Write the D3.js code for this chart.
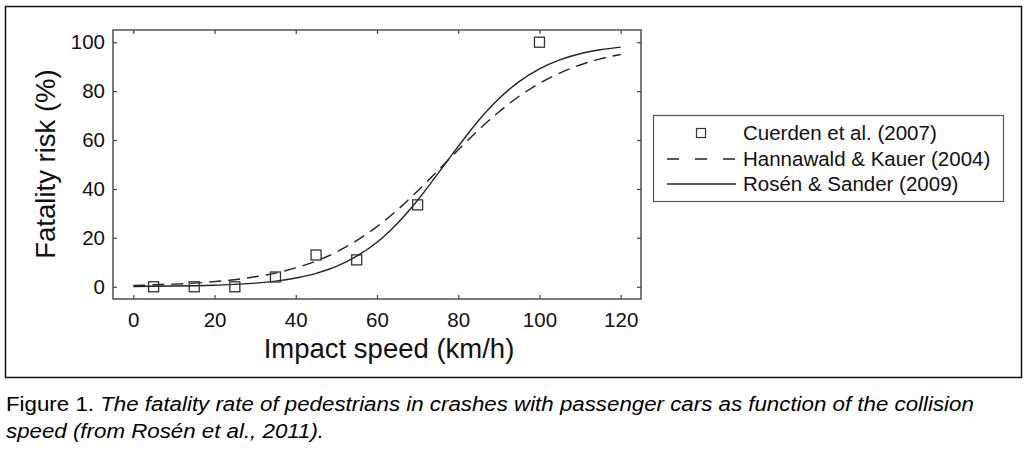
<!DOCTYPE html>
<html>
<head>
<meta charset="utf-8">
<script src="https://cdn.jsdelivr.net/npm/d3@7"></script>
<style>
  body { margin: 0; background: #fff; }
  text { font-family: "Liberation Sans", Arial, Helvetica, sans-serif; }
</style>
</head>
<body>
<svg id="chart" width="1034" height="452"></svg>
<script>
// values
const speeds = [0, 5, 10, 15, 20, 25, 30, 35, 40, 45, 50, 55, 60, 65, 70, 75, 80, 85, 90, 95, 100, 105, 110, 115, 120]
const rosenRisk = [0.1, 0.2, 0.3, 0.4, 0.6, 1.0, 1.5, 2.3, 3.6, 5.5, 8.3, 12.5, 18.2, 25.9, 35.4, 46.3, 57.4, 68, 76.9, 83.9, 89.1, 92.8, 95.3, 96.9, 98.0]
const hannawaldRisk = [0.5, 0.8, 1.1, 1.5, 2.1, 2.9, 4.1, 5.6, 7.7, 10.5, 14.2, 18.9, 24.6, 31.4, 39.2, 47.5, 56, 64.1, 71.5, 77.9, 83.2, 87.4, 90.7, 93.2, 95.0]
const cuerdenSpeed = [5, 15, 25, 35, 45, 55, 70, 100]
const cuerdenRisk = [0, 0, 0, 4, 13, 11, 33.5, 100]
const xTicks = [0, 20, 40, 60, 80, 100, 120]
const yTicks = [0, 20, 40, 60, 80, 100]
const legendLabels = ["Cuerden et al. (2007)", "Hannawald & Kauer (2004)", "Rosén & Sander (2009)"]

const svg = d3.select("#chart")

// outer frame
svg.append("rect")
   .attr("x", 5.5).attr("y", 6.5)
   .attr("width", 1016).attr("height", 371)
   .attr("fill", "none").attr("stroke", "#111").attr("stroke-width", 1.5)

const plotLeft = 113, plotRight = 641, plotTop = 30, plotBottom = 299

const x = d3.scaleLinear().domain([-5, 125]).range([plotLeft, plotRight])
const y = d3.scaleLinear().domain([-5, 105]).range([plotBottom, plotTop])

const axisColor = "#444"

function styleAxis(g){
  g.select(".domain").remove()
  g.selectAll("line").attr("stroke", axisColor).attr("stroke-width", 1.2)
  g.selectAll("text").attr("font-size", 20.5).attr("fill", "#111")
   .style("font-family", "'Liberation Sans', Arial, sans-serif")
}

svg.append("g").attr("transform", "translate(0," + plotBottom + ")")
   .call(d3.axisBottom(x).tickValues(xTicks).tickSize(-4).tickPadding(13))
   .call(styleAxis)
svg.append("g").attr("transform", "translate(0," + plotTop + ")")
   .call(d3.axisTop(x).tickValues(xTicks).tickSize(-4).tickFormat(""))
   .call(styleAxis)
svg.append("g").attr("transform", "translate(" + plotLeft + ",0)")
   .call(d3.axisLeft(y).tickValues(yTicks).tickSize(-4).tickPadding(8))
   .call(styleAxis)
svg.append("g").attr("transform", "translate(" + plotRight + ",0)")
   .call(d3.axisRight(y).tickValues(yTicks).tickSize(-4).tickFormat(""))
   .call(styleAxis)

// plot box
svg.append("rect")
   .attr("x", plotLeft).attr("y", plotTop)
   .attr("width", plotRight - plotLeft).attr("height", plotBottom - plotTop)
   .attr("fill", "none").attr("stroke", axisColor).attr("stroke-width", 1.4)

// curves
const line = d3.line()
  .x((d, i) => x(speeds[i]))
  .y(d => y(d))
  .curve(d3.curveMonotoneX)

svg.append("path")
   .attr("d", line(hannawaldRisk))
   .attr("fill", "none").attr("stroke", "#222").attr("stroke-width", 1.4)
   .attr("stroke-dasharray", "12,7")

svg.append("path")
   .attr("d", line(rosenRisk))
   .attr("fill", "none").attr("stroke", "#222").attr("stroke-width", 1.4)

const sq = 10
svg.selectAll(".pt")
   .data(cuerdenSpeed)
   .enter().append("rect")
   .attr("class", "pt")
   .attr("x", (d, i) => x(d) - sq / 2)
   .attr("y", (d, i) => y(cuerdenRisk[i]) - sq / 2)
   .attr("width", sq).attr("height", sq)
   .attr("fill", "none").attr("stroke", "#333").attr("stroke-width", 1.3)

// axis titles
svg.append("text")
   .attr("x", 389).attr("y", 358)
   .attr("text-anchor", "middle").attr("font-size", 27.5).attr("fill", "#111")
   .text("Impact speed (km/h)")

svg.append("text")
   .attr("transform", "translate(55,164) rotate(-90)")
   .attr("text-anchor", "middle").attr("font-size", 27.5).attr("fill", "#111")
   .text("Fatality risk (%)")

// legend
const lg = svg.append("g")
lg.append("rect")
  .attr("x", 653.5).attr("y", 115.5).attr("width", 350).attr("height", 86)
  .attr("fill", "#fff").attr("stroke", "#555").attr("stroke-width", 1.2)

const rowY = [133, 159, 184]
lg.append("rect")
  .attr("x", 701 - 4.5).attr("y", rowY[0] - 4.5).attr("width", 9).attr("height", 9)
  .attr("fill", "none").attr("stroke", "#333").attr("stroke-width", 1.2)
lg.append("line")
  .attr("x1", 667).attr("x2", 736).attr("y1", rowY[1]).attr("y2", rowY[1])
  .attr("stroke", "#222").attr("stroke-width", 1.4).attr("stroke-dasharray", "12,16")
lg.append("line")
  .attr("x1", 667).attr("x2", 736).attr("y1", rowY[2]).attr("y2", rowY[2])
  .attr("stroke", "#222").attr("stroke-width", 1.4)

lg.selectAll(".lt")
  .data(legendLabels)
  .enter().append("text")
  .attr("class", "lt")
  .attr("x", 743)
  .attr("y", (d, i) => rowY[i] + 7)
  .attr("font-size", 20.5).attr("fill", "#111")
  .text(d => d)

// caption (glyphs in the source are wider than Liberation Sans, hence the x stretch)
const cap = svg.append("g").attr("transform", "translate(6,0) scale(1.144,1)")
const cap1 = cap.append("text").attr("x", 0).attr("y", 411).attr("font-size", 19.5).attr("fill", "#000")
cap1.append("tspan").text("Figure 1. ")
cap1.append("tspan").attr("font-style", "italic")
    .text("The fatality rate of pedestrians in crashes with passenger cars as function of the collision")

cap.append("text").attr("x", 0).attr("y", 438).attr("font-size", 19.5).attr("fill", "#000")
   .attr("font-style", "italic")
   .text("speed (from Rosén et al., 2011).")
</script>
</body>
</html>
